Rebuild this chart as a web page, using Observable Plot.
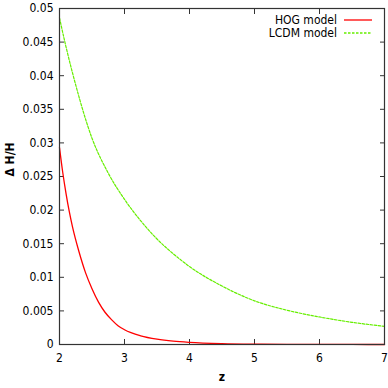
<!DOCTYPE html>
<html>
<head>
<meta charset="utf-8">
<script src="https://cdn.jsdelivr.net/npm/d3@7"></script>
<script src="https://cdn.jsdelivr.net/npm/@observablehq/plot@0.6"></script>
<style>
  html, body { margin: 0; padding: 0; background: #fff; }
  #chart svg { display: block; }
</style>
</head>
<body>
<div id="chart"></div>
<script>
// Data
const hogZ = [2.0, 2.05, 2.1, 2.15, 2.2, 2.3, 2.4, 2.5, 2.6, 2.7, 2.8, 2.9, 3.0, 3.25, 3.5, 3.75, 4.0, 4.5, 5.0, 5.5, 6.0, 6.5, 7.0];
const hogDH = [0.0293, 0.0256, 0.0225, 0.0198, 0.0175, 0.0138, 0.0107, 0.0083, 0.0063, 0.0048, 0.0037, 0.0028, 0.0022, 0.0013, 0.0008, 0.0005, 0.00032, 0.00013, 0.00005, 0.00002, 0.00001, 0.000005, 0.0];
const lcdmZ = [2.0, 2.1, 2.25, 2.5, 2.75, 3.0, 3.25, 3.5, 3.75, 4.0, 4.5, 5.0, 5.5, 6.0, 6.5, 7.0];
const lcdmDH = [0.0486, 0.0443, 0.0386, 0.0307, 0.0255, 0.0216, 0.0184, 0.0157, 0.0135, 0.0116, 0.0087, 0.0065, 0.0051, 0.0041, 0.0033, 0.0027];
const seriesNames = ["HOG model", "LCDM model"];
const seriesColors = ["#ff0000", "#66ee00"];
const xTicks = [2, 3, 4, 5, 6, 7];
const yTicks = [0, 0.005, 0.01, 0.015, 0.02, 0.025, 0.03, 0.035, 0.04, 0.045, 0.05];
const xLabel = "z";
const yLabel = "\u0394 H/H";

const hog = hogZ.map((z, i) => ({z, v: hogDH[i]}));
const lcdm = lcdmZ.map((z, i) => ({z, v: lcdmDH[i]}));

const font = "'Liberation Sans Narrow', 'DejaVu Sans Condensed', 'Liberation Sans', sans-serif";
const tickColor = "#333";

const plot = Plot.plot({
  width: 388,
  height: 388,
  marginLeft: 59,
  marginRight: 4,
  marginTop: 8,
  marginBottom: 44,
  style: {fontFamily: font, fontSize: "12px", color: "#000", background: "#fff"},
  x: {domain: [2, 7]},
  y: {domain: [0, 0.05]},
  marks: [
    // inward ticks on all four sides
    Plot.axisX(xTicks, {anchor: "bottom", tickSize: 5, dy: -5, text: null, label: null, stroke: tickColor}),
    Plot.axisX(xTicks, {anchor: "top", tickSize: 5, dy: 5, text: null, label: null, stroke: tickColor}),
    Plot.axisY(yTicks, {anchor: "left", tickSize: 5, dx: 5, text: null, label: null, stroke: tickColor}),
    Plot.axisY(yTicks, {anchor: "right", tickSize: 5, dx: -5, text: null, label: null, stroke: tickColor}),
    // tick labels
    Plot.axisX(xTicks, {anchor: "bottom", tickSize: 0, tickPadding: 9, tickFormat: d => String(d), label: null, fontSize: 12}),
    Plot.axisY(yTicks, {anchor: "left", tickSize: 0, tickPadding: 6, tickFormat: d => String(+d.toFixed(3)), label: null, fontSize: 12}),
    Plot.line(lcdm, {x: "z", y: "v", stroke: seriesColors[1], strokeWidth: 1.2, strokeDasharray: "2.5,1.5", curve: "monotone-x"}),
    Plot.line(hog, {x: "z", y: "v", stroke: seriesColors[0], strokeWidth: 1.3, curve: "monotone-x"}),
    Plot.frame({stroke: "#333", strokeWidth: 1.2}),
    Plot.text([xLabel], {frameAnchor: "bottom", dy: 36, fontSize: 12, fontWeight: "bold"}),
    Plot.text([yLabel], {frameAnchor: "left", dx: -49, rotate: -90, fontSize: 12, fontWeight: "bold"})
  ]
});

// legend (inside top-right), drawn from the series names
const svg = d3.select(plot);
const lg = svg.append("g").attr("font-family", font).attr("font-size", 12);
seriesNames.forEach((name, i) => {
  const y = 20 + i * 13;
  lg.append("text").attr("x", 337).attr("y", y).attr("dy", "0.35em")
    .attr("text-anchor", "end").attr("fill", "#000").text(name);
  lg.append("line").attr("x1", 344).attr("x2", 372).attr("y1", y).attr("y2", y)
    .attr("stroke", seriesColors[i]).attr("stroke-width", 1.3)
    .attr("stroke-dasharray", i === 1 ? "2.5,1.5" : null);
});

document.getElementById("chart").appendChild(plot);
</script>
</body>
</html>
